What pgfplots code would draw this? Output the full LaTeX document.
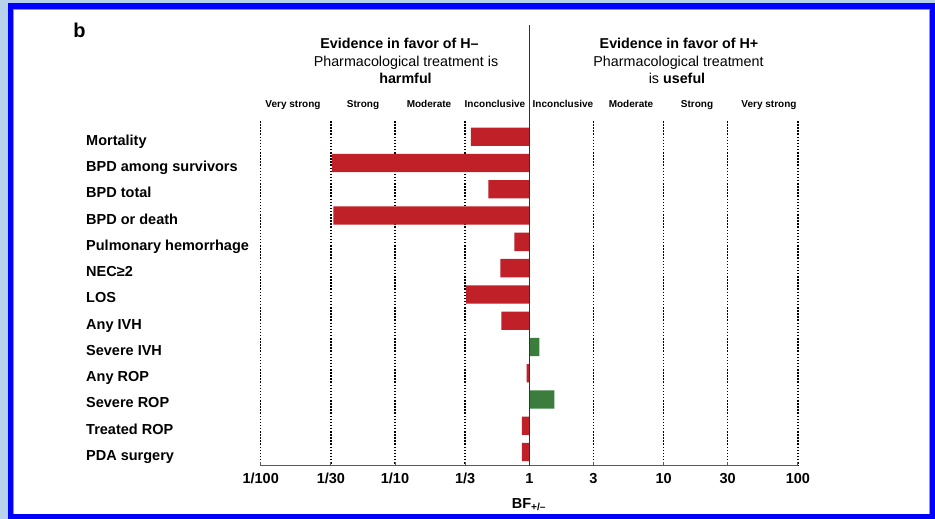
\documentclass[border=0pt]{standalone}
\usepackage{fontspec}
\setmainfont{Liberation Sans}
\usepackage{pgfplots}
\pgfplotsset{compat=1.18}
\definecolor{barred}{RGB}{192,32,40}
\definecolor{bargreen}{RGB}{58,125,60}
\definecolor{frameblue}{RGB}{0,0,255}
\definecolor{framelight}{RGB}{185,210,236}
\definecolor{axgray}{RGB}{90,90,90}
\newcommand{\fs}[1]{\fontsize{#1}{#1}\selectfont}
\begin{document}
\begin{tikzpicture}[x=1pt,y=1pt]
\fill[framelight] (0,0) rectangle (935,-519);
\fill[frameblue] (8,-3) rectangle (935,-519);
\fill[frameblue!45!white] (13,-9) rectangle (930,-514);
\fill[white] (14,-10) rectangle (929,-513.5);
\begin{axis}[
  at={(260.7pt,-465.7pt)}, anchor=south west,
  scale only axis, width=537.2pt, height=344.7pt,
  xmode=log, xmin=0.01, xmax=100,
  ymin=-0.6, ymax=12.52, y dir=reverse,
  enlargelimits=false,
  xbar, bar width=18.3pt, bar shift=0pt,
  axis x line*=bottom, axis y line*=left,
  y axis line style={draw=none},
  x axis line style={axgray, line width=1.1pt},
  xtick style={axgray, line width=0.9pt},
  ytick style={draw=none},
  tick align=inside, major tick length=4pt,
  xminorticks=false,
  xtick={0.01,0.0333333,0.1,0.333333,1,3,10,30,100},
  xticklabels={1/100,1/30,1/10,1/3,1,3,10,30,100},
  xticklabel style={font=\bfseries\fs{14.5}, yshift=-4pt},
  ytick={0,1,2,3,4,5,6,7,8,9,10,11,12},
  yticklabels={Mortality,BPD among survivors,BPD total,BPD or death,Pulmonary hemorrhage,NEC≥2,LOS,Any IVH,Severe IVH,Any ROP,Severe ROP,Treated ROP,PDA surgery},
  yticklabel style={font=\bfseries\fs{14.5}, anchor=base west, inner sep=0pt, xshift=-174.7pt, yshift=-8.5pt},
  xmajorgrids=true,
  major grid style={black, line width=1.5pt, dash pattern=on 1.5pt off 1.6pt},
  clip=false,
]
\addplot[fill=barred, draw=none] coordinates {
  (0.368,0) (0.034,1) (0.496,2) (0.0347,3) (0.773,4) (0.608,5)
  (0.338,6) (0.619,7) (0.957,9) (0.88,11) (0.88,12)};
\addplot[fill=bargreen, draw=none] coordinates {
  (1.19,8) (1.54,10)};
\draw[black!80, line width=1.3pt] (axis cs:1,-4.26) -- (axis cs:1,12.52);
\end{axis}
\node[anchor=base, font=\bfseries\fs{20}] at (79.5,-38) {b};
\node[anchor=base, font=\bfseries\fs{14.3}] at (399.5,-48.3) {Evidence in favor of H–};
\node[anchor=base, font=\fs{14.3}] at (406,-66.7) {Pharmacological treatment is};
\node[anchor=base, font=\bfseries\fs{14.3}] at (405.5,-83.3) {harmful};
\node[anchor=base, font=\bfseries\fs{14.3}] at (679,-48.3) {Evidence in favor of H+};
\node[anchor=base, font=\fs{14.3}] at (678.5,-66.7) {Pharmacological treatment};
\node[anchor=base, font=\fs{14.3}] at (677,-83.3) {is \textbf{useful}};
\foreach \cx/\txt in {293/Very strong,363/Strong,429/Moderate,495/Inconclusive,563/Inconclusive,631/Moderate,697/Strong,769/Very strong}
  \node[anchor=base, font=\bfseries\fs{10}] at (\cx,-107.7) {\txt};
\node[anchor=base, font=\bfseries\fs{14.5}] at (529,-508) {BF\textsubscript{+/–}};
\end{tikzpicture}
\end{document}
